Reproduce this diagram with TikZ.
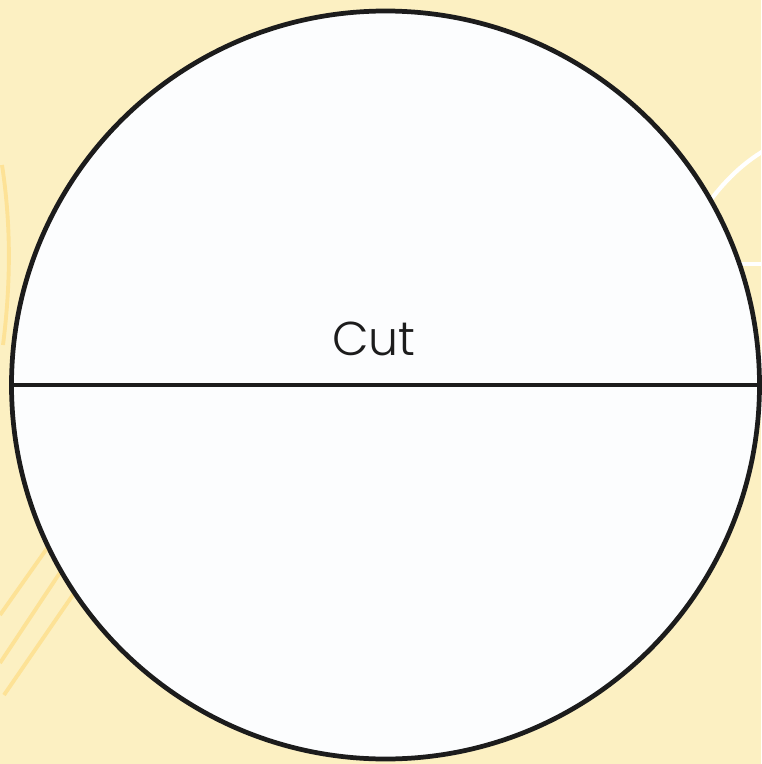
\documentclass[tikz,border=0pt]{standalone}
\usepackage{fontspec}
\newfontfamily\cutfont{Poppins Light}
\usepackage{tikz}
\usetikzlibrary{positioning}

\definecolor{paper}{RGB}{252,240,194}
\definecolor{paperline}{RGB}{253,226,150}
\definecolor{disccol}{RGB}{252,253,254}
\definecolor{rimcol}{RGB}{28,28,28}

\tikzset{
    decoline/.style={paperline, line width=2.2pt},
    whiteline/.style={white, line width=2.4pt}
}

\begin{document}
\begin{tikzpicture}[x=0.02cm, y=-0.02cm]

    % Background
    \fill[paper] (0,0) rectangle (761,764);
    \useasboundingbox (0,0) rectangle (761,764);

    % Faint background curves
    \draw[decoline] (2,165) .. controls (12,230) and (10,290) .. (3,345);
    \draw[decoline] (60,530) -- (0,615);
    \draw[decoline] (75,550) -- (0,663);
    \draw[decoline] (90,570) -- (4,695);
    \draw[whiteline] (700,215) .. controls (720,185) and (740,165) .. (765,150);
    \draw[whiteline] (740,264) -- (765,264);

    % The disc
    \node[circle, draw=rimcol, fill=disccol, line width=2.7pt, inner sep=0pt,
          minimum size=748*0.02cm] (disc) at (385.5,385) {};

    % Cut line
    \draw[rimcol, line width=2.7pt] (disc.west) -- (disc.east);

    % Label
    \node[font=\cutfont\fontsize{27}{31}\selectfont, text=rimcol, anchor=base]
          (cut) at (374,355) {Cut};

\end{tikzpicture}
\end{document}
